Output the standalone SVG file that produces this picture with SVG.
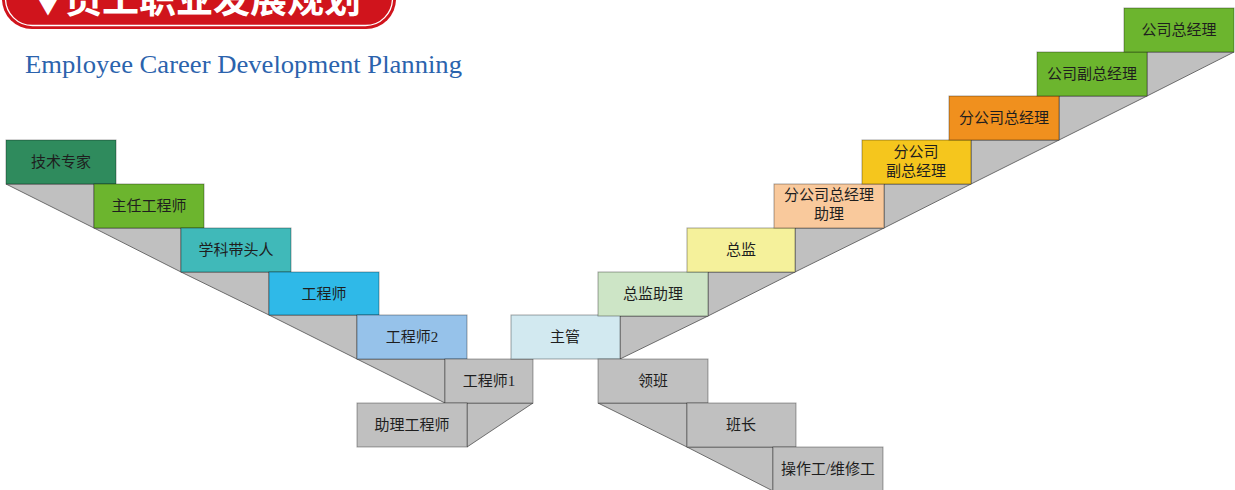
<svg xmlns="http://www.w3.org/2000/svg" width="1235" height="490" viewBox="0 0 1235 490">
<style>
.box{stroke:rgba(0,0,0,0.35);stroke-width:1}
.wedge{fill:#c0c0c0;stroke:#5f5f5f;stroke-width:0.9;stroke-linejoin:round}
.lbl{font-family:"Liberation Serif","Noto Sans CJK SC",serif;font-size:15px;fill:#1e1e1e;text-anchor:middle}
.grey{fill:#c0c0c0}
.ttl{font-family:"Noto Sans CJK SC",sans-serif;font-weight:bold;fill:#ffffff}
</style>
<rect width="1235" height="490" fill="#ffffff"/>
<g id="banner">
<rect x="2" y="-40" width="394" height="69" rx="30" fill="#d0141c"/>
<rect x="5.5" y="-40" width="387" height="65.5" rx="27" fill="none" stroke="#ffffff" stroke-width="1.3"/>
<text class="ttl" x="33" y="13" font-size="30">▼</text>
<text class="ttl" x="65" y="13" font-size="37" textLength="296" lengthAdjust="spacingAndGlyphs">员工职业发展规划</text>
</g>
<text id="subtitle" x="25" y="73" font-family="Liberation Serif, serif" font-size="25" fill="#2b63ad" textLength="437" lengthAdjust="spacingAndGlyphs">Employee Career Development Planning</text>
<g id="connectors">
<polygon class="wedge" points="6,184 94,184 94,228"/>
<polygon class="wedge" points="94,228 181,228 181,272"/>
<polygon class="wedge" points="181,272 269,272 269,315"/>
<polygon class="wedge" points="269,315 357,315 357,359"/>
<polygon class="wedge" points="357,359 445,359 445,403"/>
<polygon class="wedge" points="467,403 533,403 467,447"/>
<polygon class="wedge" points="620,316 708,316 620,359"/>
<polygon class="wedge" points="708,272 795,272 708,316"/>
<polygon class="wedge" points="795,228 884,228 795,272"/>
<polygon class="wedge" points="884,184 971,184 884,228"/>
<polygon class="wedge" points="971,140 1059,140 971,184"/>
<polygon class="wedge" points="1059,96 1147,96 1059,140"/>
<polygon class="wedge" points="1147,52 1234,52 1147,96"/>
<polygon class="wedge" points="598,403 687,403 687,447"/>
<polygon class="wedge" points="687,447 773,447 773,491"/>
</g>
<g id="n-jszj"><rect class="box" x="6" y="140" width="110" height="44" fill="#2f8b5d"/><text class="lbl" x="61" y="167">技术专家</text></g>
<g id="n-zrgcs"><rect class="box" x="94" y="184" width="110" height="44" fill="#6cb52e"/><text class="lbl" x="149" y="211">主任工程师</text></g>
<g id="n-xkdtr"><rect class="box" x="181" y="228" width="110" height="44" fill="#40b9b9"/><text class="lbl" x="236" y="255">学科带头人</text></g>
<g id="n-gcs"><rect class="box" x="269" y="272" width="110" height="43" fill="#2fb9e8"/><text class="lbl" x="324" y="299">工程师</text></g>
<g id="n-gcs2"><rect class="box" x="357" y="315" width="110" height="44" fill="#96c2ea"/><text class="lbl" x="412" y="342">工程师2</text></g>
<g id="n-gcs1"><rect class="box grey" x="445" y="359" width="88" height="44"/><text class="lbl" x="489" y="386">工程师1</text></g>
<g id="n-zlgcs"><rect class="box grey" x="357" y="403" width="110" height="44"/><text class="lbl" x="412" y="430">助理工程师</text></g>
<g id="n-zg"><rect class="box" x="511" y="315" width="109" height="44" fill="#d2e9f0"/><text class="lbl" x="565" y="342">主管</text></g>
<g id="n-zjzl"><rect class="box" x="598" y="272" width="110" height="44" fill="#cde5c6"/><text class="lbl" x="653" y="299">总监助理</text></g>
<g id="n-zj"><rect class="box" x="687" y="228" width="108" height="44" fill="#f5f19b"/><text class="lbl" x="741" y="255">总监</text></g>
<g id="n-fgszjlzl"><rect class="box" x="774" y="184" width="110" height="44" fill="#f9c99c"/><text class="lbl" x="829" y="200">分公司总经理</text><text class="lbl" x="829" y="219">助理</text></g>
<g id="n-fgsfzjl"><rect class="box" x="862" y="140" width="109" height="44" fill="#f5c61d"/><text class="lbl" x="916" y="157">分公司</text><text class="lbl" x="916" y="176">副总经理</text></g>
<g id="n-fgszjl"><rect class="box" x="949" y="96" width="110" height="44" fill="#f0901e"/><text class="lbl" x="1004" y="123">分公司总经理</text></g>
<g id="n-gsfzjl"><rect class="box" x="1037" y="52" width="110" height="44" fill="#6cb52e"/><text class="lbl" x="1092" y="79">公司副总经理</text></g>
<g id="n-gszjl"><rect class="box" x="1124" y="8" width="110" height="44" fill="#6cb52e"/><text class="lbl" x="1179" y="35">公司总经理</text></g>
<g id="n-lb"><rect class="box grey" x="598" y="359" width="110" height="44"/><text class="lbl" x="653" y="386">领班</text></g>
<g id="n-bz"><rect class="box grey" x="687" y="403" width="109" height="44"/><text class="lbl" x="741" y="430">班长</text></g>
<g id="n-czg"><rect class="box grey" x="773" y="447" width="110" height="44"/><text class="lbl" x="828" y="474">操作工/维修工</text></g>
</svg>
